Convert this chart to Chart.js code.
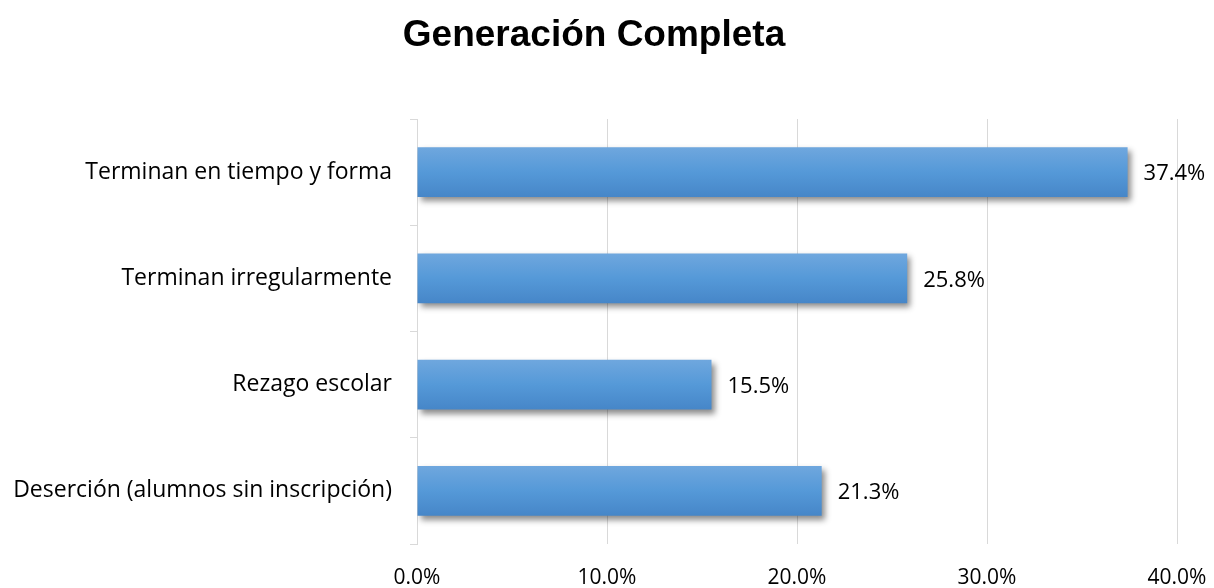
<!DOCTYPE html>
<html>
<head>
<meta charset="utf-8">
<script src="https://cdn.jsdelivr.net/npm/chart.js@4"></script>
<style>
	html, body { margin: 0; padding: 0; background: #fff; }
	#wrap { width: 1214px; height: 588px; position: relative; }
</style>
</head>
<body>
<div id="wrap"><canvas id="myChart"></canvas></div>
<script>
/* Generación Completa */
var chartTitle = 'Generación Completa';
var categories = [
	'Terminan en tiempo y forma',
	'Terminan irregularmente',
	'Rezago escolar',
	'Deserción (alumnos sin inscripción)'
];
var values = [37.4, 25.8, 15.5, 21.3];
var xTicks = [0, 10, 20, 30, 40];

var labelFont = "'Open Sans', 'Liberation Sans', sans-serif";
var barPct = 0.47;

// degradado de la barra
function barGradient(context) {
	var chart = context.chart;
	var area = chart.chartArea;
	var yScale = chart.scales.y;
	if (!area || !yScale) {
		return '#5b9bd5';
	}
	var cy = yScale.getPixelForValue(context.dataIndex);
	var h = (area.bottom - area.top) / categories.length * barPct;
	if (!isFinite(cy) || !isFinite(h)) {
		return '#5b9bd5';
	}
	var g = chart.ctx.createLinearGradient(0, cy - h / 2, 0, cy + h / 2);
	g.addColorStop(0, '#6fa7de');
	g.addColorStop(0.5, '#5599d8');
	g.addColorStop(1, '#4686c8');
	return g;
}

const shadowPlugin = {
	id: 'shadowPlugin',
	beforeDatasetsDraw(chart) {
		const ctx = chart.ctx;
		ctx.save();
		ctx.shadowColor = 'rgba(0,0,0,0.45)';
		ctx.shadowBlur = 6;
		ctx.shadowOffsetX = 3;
		ctx.shadowOffsetY = 4;
	},
	afterDatasetsDraw(chart) {
		chart.ctx.restore();
	}
};

const valueLabelPlugin = {
	id: 'valueLabelPlugin',
	afterDraw(chart) {
		const ctx = chart.ctx;
		const meta = chart.getDatasetMeta(0);
		ctx.save();
		ctx.font = '22px ' + labelFont;
		ctx.fillStyle = '#000';
		ctx.textAlign = 'left';
		ctx.textBaseline = 'middle';
		meta.data.forEach(function (bar, i) {
			ctx.fillText(values[i].toFixed(1) + '%', bar.x + 16, bar.y + 2);
		});
		// titulo
		ctx.font = 'bold 37px "Liberation Sans", Arial, sans-serif';
		ctx.textAlign = 'center';
		ctx.textBaseline = 'alphabetic';
		ctx.fillText(chartTitle, 594, 46);
		ctx.restore();
	}
};

var ctx1 = document.getElementById('myChart');
var myChart = new Chart(ctx1, {
	type: 'bar',
	data: {
		labels: categories,
		datasets: [{
			data: values,
			backgroundColor: barGradient,
			borderWidth: 0,
			categoryPercentage: 1,
			barPercentage: barPct
		}]
	},
	options: {
		indexAxis: 'y',
		responsive: true,
		maintainAspectRatio: false,
		animation: false,
		layout: {
			padding: {
				left: 0,
				right: 37,
				top: 119,
				bottom: 0
			}
		},
		plugins: {
			legend: { display: false },
			title: { display: false },
			tooltip: { enabled: false }
		},
		scales: {
			x: {
				min: 0,
				max: 40,
				afterBuildTicks: function (axis) {
					axis.ticks = xTicks.map(function (v) { return { value: v }; });
				},
				afterFit: function (axis) {
					axis.height = 44;
					axis.paddingRight = 37;
					axis.paddingLeft = 0;
				},
				ticks: {
					color: '#000',
					font: { size: 21, family: labelFont },
					padding: 21,
					maxRotation: 0,
					callback: function (v) { return Number(v).toFixed(1) + '%'; }
				},
				grid: {
					color: '#d9d9d9',
					drawTicks: false
				},
				border: { display: false }
			},
			y: {
				afterFit: function (axis) {
					axis.width = 417;
				},
				ticks: {
					color: '#000',
					font: { size: 23, family: labelFont },
					padding: 18
				},
				grid: {
					offset: true,
					drawOnChartArea: false,
					drawTicks: true,
					tickLength: 7,
					color: '#d9d9d9'
				},
				border: { display: true, color: '#d9d9d9' }
			}
		}
	},
	plugins: [shadowPlugin, valueLabelPlugin]
});
</script>
</body>
</html>
